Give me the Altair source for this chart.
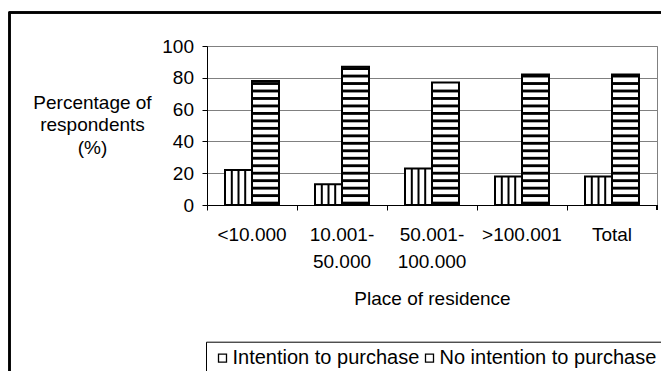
import altair as alt
import pandas as pd

# Survey shares by place of residence (percent of respondents)
categories = ["<10.000", "10.001-\n50.000", "50.001-\n100.000", ">100.001", "Total"]
series = ["Intention to purchase", "No intention to purchase"]
intention = [22, 13, 23, 18, 18]
no_intention = [78, 87, 77, 82, 82]

rows = []
for c, a, b in zip(categories, intention, no_intention):
    rows.append({"place": c, "group": series[0], "pct": a})
    rows.append({"place": c, "group": series[1], "pct": b})
df = pd.DataFrame(rows)

# horizontal hatching for the second series: dark bands repeating up the bar
STEP, BAND, START = 4.7, 1.8, 0.3
hatch = []
for c, b in zip(categories, no_intention):
    k = 0
    while START + k * STEP + BAND <= b:
        lo = START + k * STEP
        hatch.append({"place": c, "group": series[1], "lo": lo, "hi": lo + BAND})
        k += 1
hatch_df = pd.DataFrame(hatch)

FONT = "Liberation Sans"
W, H = 450, 159
STEP_X = W / len(categories)          # 90 px per category
PAD_OUT = 0.667                       # outer padding of the series offset scale
BAR_W = STEP_X / (2 + 2 * PAD_OUT)    # 27 px per bar
FIRST_MID = PAD_OUT * BAR_W + BAR_W / 2  # centre of the first bar from the band start

x_enc = alt.X(
    "place:N",
    sort=categories,
    scale=alt.Scale(domain=categories, paddingInner=0, paddingOuter=0),
    axis=alt.Axis(
        title="Place of residence",
        titleFontSize=19,
        titleFontWeight="normal",
        titleColor="black",
        titleY=99,
        titleBaseline="alphabetic",
        labelAngle=0,
        labelFontSize=19,
        labelColor="black",
        labelLineHeight=27,
        labelPadding=15.7,
        labelExpr="split(datum.label, '\\n')",
        bandPosition=0,
        tickSize=5,
        tickColor="black",
        domainColor="black",
        grid=False,
        labelOverlap=False,
    ),
)
xo_enc = alt.XOffset(
    "group:N",
    sort=series,
    scale=alt.Scale(domain=series, paddingInner=0, paddingOuter=PAD_OUT),
)
y_axis = alt.Axis(
    title=["Percentage of", "respondents", "(%)"],
    titleAngle=0,
    titleFontSize=19,
    titleFontWeight="normal",
    titleColor="black",
    titleAlign="center",
    titleBaseline="top",
    titleX=-115,
    titleY=47,
    titleLineHeight=22.5,
    values=[0, 20, 40, 60, 80, 100],
    labelFontSize=19,
    labelColor="black",
    labelPadding=8.5,
    tickSize=5,
    tickColor="black",
    domainColor="black",
    grid=True,
    gridColor="#808080",
    gridWidth=1,
)
y_scale = alt.Scale(domain=[0, 100], nice=False)

base = alt.Chart(df)

# outer frame of the figure
frame = base.mark_rect(fill=None, stroke="black", strokeWidth=1.5).encode(
    x=alt.value(9.5 - 207), x2=alt.value(W + 100),
    y=alt.value(12.5 - 46), y2=alt.value(H + 250),
)

legend = alt.Legend(
    title=None,
    orient="none",
    legendX=-1,
    legendY=295.7,
    direction="horizontal",
    padding=6.5,
    strokeColor="black",
    fillColor="white",
    labelFont=FONT,
    labelFontSize=20,
    labelColor="black",
    labelOffset=0,
    labelLimit=400,
    columnPadding=0,
    symbolType="square",
    symbolSize=64,
    symbolFillColor="white",
    symbolStrokeColor="black",
    symbolStrokeWidth=1.3,
    cornerRadius=0,
)

bars = base.mark_bar(stroke="black", strokeWidth=2).encode(
    x=x_enc,
    xOffset=xo_enc,
    y=alt.Y("pct:Q", scale=y_scale, axis=y_axis),
    y2=alt.datum(0),
    fill=alt.Fill(
        "group:N",
        sort=series,
        scale=alt.Scale(domain=series, range=["white", "white"]),
        legend=legend,
    ),
)

first = base.transform_filter(alt.datum.group == series[0])

# vertical hatching inside the first series' bars
vlines = []
for dx in (-6.7, 0, 6.7):
    vlines.append(
        first.mark_rule(color="black", strokeWidth=2).encode(
            x=x_enc,
            xOffset=alt.value(FIRST_MID + dx),
            y=alt.Y("pct:Q", scale=y_scale, axis=y_axis),
            y2=alt.datum(0),
        )
    )

hbands = alt.Chart(hatch_df).mark_bar(fill="black", stroke=None).encode(
    x=x_enc,
    xOffset=xo_enc,
    y=alt.Y("lo:Q", scale=y_scale, axis=y_axis),
    y2="hi:Q",
)

# closing tick at the right end of the category axis
end_tick = base.mark_rule(color="black", strokeWidth=1).encode(
    x=alt.value(W), y=alt.value(H), y2=alt.value(H + 5)
)

chart = (
    alt.layer(frame, bars, *vlines, hbands, end_tick)
    .properties(
        width=W,
        height=H,
        autosize=alt.AutoSizeParams(type="none"),
        padding={"left": 207, "top": 46, "right": 4, "bottom": 166},
        background="white",
    )
    .configure(font=FONT)
    .configure_view(stroke="#808080", strokeWidth=1)
    .configure_axis(labelFont=FONT, titleFont=FONT)
)

chart.save("out.html", embed_options={"renderer": "svg", "actions": False})
